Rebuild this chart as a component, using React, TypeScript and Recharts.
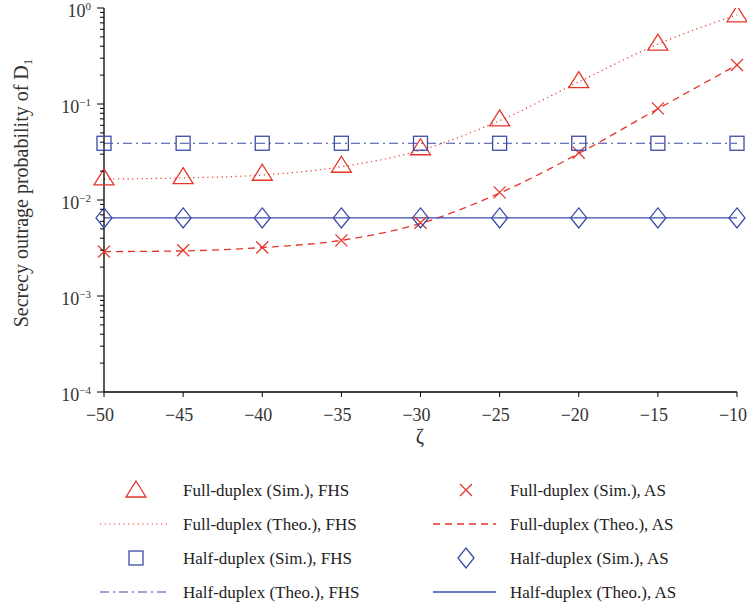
import { LineChart, Line, XAxis, YAxis } from 'recharts';

const zeta = [-50, -45, -40, -35, -30, -25, -20, -15, -10];
const fullSimFHS = [0.017, 0.0175, 0.019, 0.023, 0.035, 0.07, 0.175, 0.43, 0.85];
const fullTheoFHS = [0.0165, 0.017, 0.0182, 0.0222, 0.033, 0.067, 0.17, 0.42, 0.85];
const fullSimAS = [0.0029, 0.003, 0.0032, 0.0038, 0.0058, 0.012, 0.031, 0.09, 0.255];
const fullTheoAS = [0.0029, 0.00295, 0.0032, 0.0038, 0.0057, 0.0118, 0.0305, 0.089, 0.255];
const halfSimFHS = [0.039, 0.039, 0.039, 0.039, 0.039, 0.039, 0.039, 0.039, 0.039];
const halfTheoFHS = [0.039, 0.039, 0.039, 0.039, 0.039, 0.039, 0.039, 0.039, 0.039];
const halfSimAS = [0.0065, 0.0065, 0.0065, 0.0065, 0.0065, 0.0065, 0.0065, 0.0065, 0.0065];
const halfTheoAS = [0.0065, 0.0065, 0.0065, 0.0065, 0.0065, 0.0065, 0.0065, 0.0065, 0.0065];

const yMajor = [1e-4, 1e-3, 1e-2, 1e-1, 1];
const yExp = ['−4', '−3', '−2', '−1', '0'];
const xLabels = ['−50', '−45', '−40', '−35', '−30', '−25', '−20', '−15', '−10'];

const legendLabels = [
  'Full-duplex (Sim.), FHS',
  'Full-duplex (Sim.), AS',
  'Full-duplex (Theo.), FHS',
  'Full-duplex (Theo.), AS',
  'Half-duplex (Sim.), FHS',
  'Half-duplex (Sim.), AS',
  'Half-duplex (Theo.), FHS',
  'Half-duplex (Theo.), AS',
];

const RED = '#e5352b';
const BLUE = '#3c4ba8';
const TEXT = '#333';
const FONT = '"Liberation Serif", "DejaVu Serif", serif';

// minor ticks at 2..9 of each decade
const yMinor: number[] = [];
yMajor.slice(0, 4).forEach((d) => {
  for (let k = 2; k <= 9; k++) yMinor.push(d * k);
});
const yTicks = [...yMajor, ...yMinor].sort((a, b) => a - b);

const data = zeta.map((z, i) => ({
  z,
  fullSimFHS: fullSimFHS[i],
  fullTheoFHS: fullTheoFHS[i],
  fullSimAS: fullSimAS[i],
  fullTheoAS: fullTheoAS[i],
  halfSimFHS: halfSimFHS[i],
  halfTheoFHS: halfTheoFHS[i],
  halfSimAS: halfSimAS[i],
  halfTheoAS: halfTheoAS[i],
}));

const Triangle = ({ cx, cy, color = RED }: any) => (
  <path d={`M${cx},${cy - 9} L${cx + 10},${cy + 7} L${cx - 10},${cy + 7} Z`} fill="none" stroke={color} strokeWidth={1.3} />
);
const Cross = ({ cx, cy, color = RED }: any) => (
  <path d={`M${cx - 6},${cy - 6} L${cx + 6},${cy + 6} M${cx - 6},${cy + 6} L${cx + 6},${cy - 6}`} stroke={color} strokeWidth={1.3} />
);
const Square = ({ cx, cy, color = BLUE }: any) => (
  <rect x={cx - 7} y={cy - 7} width={14} height={14} fill="none" stroke={color} strokeWidth={1.3} />
);
const Diamond = ({ cx, cy, color = BLUE }: any) => (
  <path d={`M${cx},${cy - 10} L${cx + 8},${cy} L${cx},${cy + 10} L${cx - 8},${cy} Z`} fill="none" stroke={color} strokeWidth={1.3} />
);

const YTick = ({ x, y, payload }: any) => {
  const i = yMajor.indexOf(payload.value);
  if (i < 0) {
    return <line x1={x - 4} x2={x} y1={y} y2={y} stroke="#000" strokeWidth={1} />;
  }
  return (
    <g>
      <line x1={x - 7} x2={x} y1={y} y2={y} stroke="#000" strokeWidth={1} />
      <text x={x - 13} y={y + 9} textAnchor="end" fontFamily={FONT} fontSize={18} fill={TEXT}>
        10
        <tspan fontSize={11} dy={-7.5}>{yExp[i]}</tspan>
      </text>
    </g>
  );
};

const XTick = ({ x, y, index }: any) => (
  <g>
    <line x1={x} x2={x} y1={y} y2={y + 5} stroke="#000" strokeWidth={1} />
    <text x={x - 4} y={y + 29} textAnchor="middle" fontFamily={FONT} fontSize={18} fill={TEXT}>
      {xLabels[index]}
    </text>
  </g>
);

const YLabel = () => (
  <text transform="translate(28,193) rotate(-90)" textAnchor="middle" fontFamily={FONT} fontSize={20} fill={TEXT}>
    Secrecy outrage probability of D<tspan fontSize={13} dy={4}>1</tspan>
  </text>
);

const XLabel = () => (
  <text x={420} y={443} textAnchor="middle" fontFamily={FONT} fontSize={20} fill={TEXT}>
    ζ
  </text>
);

function LegendBox() {
  const rows = [490, 524, 558, 592];
  const sample = (i: number, cx: number, x1: number, x2: number, y: number) => {
    switch (i) {
      case 0: return <Triangle cx={cx} cy={y} />;
      case 1: return <Cross cx={cx} cy={y} />;
      case 2: return <line x1={x1} x2={x2} y1={y} y2={y} stroke={RED} strokeWidth={1.2} strokeDasharray="1.2 3.5" />;
      case 3: return <line x1={x1} x2={x2} y1={y} y2={y} stroke={RED} strokeWidth={1.3} strokeDasharray="7 5" />;
      case 4: return <Square cx={cx} cy={y} />;
      case 5: return <Diamond cx={cx} cy={y} />;
      case 6: return <line x1={x1} x2={x2} y1={y} y2={y} stroke={BLUE} strokeWidth={1.2} strokeDasharray="9 4 2 4" />;
      default: return <line x1={x1} x2={x2} y1={y} y2={y} stroke={BLUE} strokeWidth={1.3} />;
    }
  };
  return (
    <svg width={747} height={609} style={{ position: 'absolute', left: 0, top: 0, pointerEvents: 'none' }}>
      {legendLabels.map((t, i) => {
        const col = i % 2;
        const y = rows[Math.floor(i / 2)];
        const cx = col === 0 ? 136 : 466;
        const x1 = col === 0 ? 100 : 433;
        const x2 = col === 0 ? 168 : 496;
        const tx = col === 0 ? 183 : 510;
        return (
          <g key={t}>
            {sample(i, cx, x1, x2, y)}
            <text x={tx} y={y + 6} fontFamily={FONT} fontSize={17} fill="#222">
              {t}
            </text>
          </g>
        );
      })}
    </svg>
  );
}

export default function App() {
  return (
    <div style={{ position: 'absolute', left: 0, top: 0, width: 747, height: 609, background: '#fff' }}>
      <LineChart width={747} height={609} data={data} margin={{ top: 8, right: 10, left: 0, bottom: 157 }}>
        <XAxis
          dataKey="z"
          type="number"
          domain={[-50, -10]}
          ticks={zeta}
          interval={0}
          height={60}
          tickSize={0}
          tickMargin={0}
          tickLine={false}
          axisLine={{ stroke: '#000', strokeWidth: 1.3 }}
          tick={<XTick />}
        />
        <XAxis xAxisId="top" dataKey="z" type="number" domain={[-50, -10]} orientation="top" height={0} tick={false} tickLine={false} axisLine={{ stroke: '#000', strokeWidth: 1.3 }} />
        <YAxis
          scale="log"
          type="number"
          domain={[1e-4, 1]}
          allowDataOverflow
          ticks={yTicks}
          interval={0}
          width={104}
          tickSize={0}
          tickMargin={0}
          tickLine={false}
          axisLine={{ stroke: '#000', strokeWidth: 1.3 }}
          tick={<YTick />}
        />
        <YAxis yAxisId="right" orientation="right" width={0} tick={false} tickLine={false} axisLine={{ stroke: '#000', strokeWidth: 1.3 }} />

        <Line dataKey="fullTheoFHS" type="monotone" stroke={RED} strokeWidth={1.2} strokeDasharray="1.2 3.5" dot={false} isAnimationActive={false} />
        <Line dataKey="fullTheoAS" type="monotone" stroke={RED} strokeWidth={1.3} strokeDasharray="7 5" dot={false} isAnimationActive={false} />
        <Line dataKey="halfTheoFHS" type="monotone" stroke={BLUE} strokeWidth={1.2} strokeDasharray="9 4 2 4" dot={false} isAnimationActive={false} />
        <Line dataKey="halfTheoAS" type="monotone" stroke={BLUE} strokeWidth={1.3} dot={false} isAnimationActive={false} />

        <Line dataKey="fullSimFHS" stroke="none" dot={(p: any) => <Triangle key={p.index} cx={p.cx} cy={p.cy} />} isAnimationActive={false} />
        <Line dataKey="fullSimAS" stroke="none" dot={(p: any) => <Cross key={p.index} cx={p.cx} cy={p.cy} />} isAnimationActive={false} />
        <Line dataKey="halfSimFHS" stroke="none" dot={(p: any) => <Square key={p.index} cx={p.cx} cy={p.cy} />} isAnimationActive={false} />
        <Line dataKey="halfSimAS" stroke="none" dot={(p: any) => <Diamond key={p.index} cx={p.cx} cy={p.cy} />} isAnimationActive={false} />

        <YLabel />
        <XLabel />
      </LineChart>
      <LegendBox />
    </div>
  );
}
